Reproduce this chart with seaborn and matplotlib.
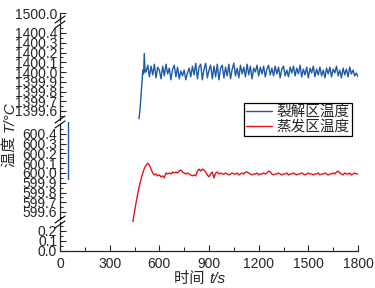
import numpy as np
import pandas as pd
import seaborn as sns
import matplotlib.pyplot as plt

# ---- data ----
blue_head_t = [477, 485, 492, 500, 505, 509, 514]
blue_head_v = [1399.52, 1399.65, 1399.82, 1400.02, 1399.98, 1400.19, 1400.00]
blue_tail = [
    1400.00, 1400.07, 1399.95, 1400.06, 1399.97, 1400.08, 1399.94, 1400.05, 1400.02, 1399.93,
    1400.06, 1399.96, 1400.08, 1399.98, 1400.04, 1399.92, 1400.03, 1400.07, 1399.95, 1400.05,
    1399.93, 1400.01, 1399.96, 1400.02, 1399.92, 1399.99, 1400.04, 1399.95, 1400.06, 1399.97,
    1400.09, 1399.93, 1400.05, 1400.08, 1399.92, 1400.03, 1400.09, 1399.94, 1400.02, 1400.07,
    1399.93, 1400.06, 1399.95, 1400.08, 1399.92, 1400.04, 1400.07, 1399.94, 1400.05, 1399.96,
    1400.08, 1399.93, 1400.03, 1400.09, 1399.96, 1400.04, 1399.94, 1400.07, 1399.98, 1400.05,
    1399.95, 1400.08, 1399.97, 1400.06, 1399.93, 1400.04, 1400.00, 1400.07, 1399.96, 1400.05,
    1399.98, 1400.06, 1399.95, 1400.03, 1400.07, 1399.97, 1400.04, 1399.96, 1400.06, 1399.98,
    1400.05, 1399.94, 1400.03, 1400.06, 1399.96, 1400.02, 1399.95, 1400.05, 1399.99, 1400.06,
    1399.96, 1400.04, 1399.98, 1400.07, 1399.95, 1400.03, 1399.97, 1400.05, 1399.94, 1400.04,
    1399.99, 1400.06, 1399.95, 1400.03, 1399.97, 1400.05, 1399.96, 1400.02, 1399.94, 1400.04,
    1399.98, 1400.05, 1399.95, 1400.03, 1399.99, 1400.06, 1399.96, 1400.02, 1399.94, 1400.04,
    1399.97, 1400.03, 1399.95, 1400.05, 1399.98, 1400.02, 1399.96, 1399.99, 1399.95,
]
blue_tail_t = np.arange(520, 1801, 10)

red_v = [
    599.50, 599.60, 599.70, 599.79, 599.87, 599.94, 600.00, 600.05, 600.08, 600.10,
    600.08, 600.04, 600.00, 599.98, 599.99, 599.97, 599.98, 599.96, 599.97, 599.95,
    600.00, 599.99, 600.00, 599.99, 600.01, 600.00, 600.01, 600.00, 600.02, 600.03,
    600.01, 600.00, 599.99, 600.00, 599.99, 599.98, 599.97, 599.98, 599.97, 600.02,
    600.04, 600.02, 600.04, 600.03, 600.01, 599.98, 599.96, 599.99, 600.01, 599.95,
    600.00, 600.01, 599.99, 600.00, 599.99, 599.99, 600.00, 599.99, 599.98, 599.99,
    600.00, 599.99, 599.99, 600.00, 599.98, 599.99, 600.00, 599.99, 600.01, 600.01,
    600.00, 599.99, 599.98, 599.99, 599.99, 600.00, 599.98, 599.99, 599.99, 600.00,
    599.99, 600.00, 600.02, 600.01, 599.99, 599.98, 599.99, 599.99, 600.00, 599.99,
    599.98, 599.99, 599.99, 600.00, 599.98, 599.99, 599.99, 600.00, 599.99, 599.98,
    599.99, 599.99, 600.00, 599.99, 599.98, 599.99, 600.00, 599.99, 599.99, 599.98,
    599.99, 599.99, 600.00, 599.98, 599.99, 599.99, 600.00, 599.99, 599.98, 599.99,
    599.99, 600.00, 599.99, 600.01, 600.02, 600.00, 599.99, 599.98, 600.00, 599.99,
    599.99, 600.00, 599.98, 599.99, 600.00, 599.99, 599.99,
]
red_t = np.arange(440, 1801, 10)

stray_t = [48, 48]
stray_v = [600.6, 599.94]

blue = pd.DataFrame({"t": list(blue_head_t) + list(blue_tail_t),
                     "v": blue_head_v + blue_tail})
red = pd.DataFrame({"t": red_t, "v": red_v})

blue_c = "#1f5aa6"
red_c = "#e3141c"

sns.set_style("ticks")
plt.rcParams["font.family"] = ["Liberation Sans", "Noto Sans CJK SC", "DejaVu Sans"]
plt.rcParams["axes.unicode_minus"] = False

fig = plt.figure(figsize=(3.75, 2.88), dpi=100)
H = 288.0
W = 375.0
L, R = 60 / W, 358 / W


def panel(top_px, bot_px):
    return fig.add_axes([L, (H - bot_px) / H, R - L, (bot_px - top_px) / H])


# four stacked panels, ~0.01026 per pixel in the two middle ones
k = 0.8 / 78
ax_top = panel(10, 22)
ax_up = panel(22, 122)
ax_mid = panel(122, 222)
ax_bot = panel(222, 251)

ax_top.set_ylim(1500 - 9 * k, 1500 + 3 * k)
ax_up.set_ylim(1399.6 - 11 * k, 1400.4 + 11 * k)
ax_mid.set_ylim(599.6 - 10 * k, 600.4 + 12 * k)
ax_bot.set_ylim(0, 0.29)

sns.lineplot(data=blue, x="t", y="v", ax=ax_up, color=blue_c, lw=1.0,
             label="裂解区温度", legend=False)
sns.lineplot(data=red, x="t", y="v", ax=ax_mid, color=red_c, lw=1.0,
             label="蒸发区温度", legend=False)
ax_mid.plot(stray_t, stray_v, color=blue_c, lw=1.0)

ax_top.set_yticks([1500.0])
ax_up.set_yticks(np.round(np.arange(1399.6, 1400.41, 0.1), 1))
ax_up.set_yticks(np.arange(1399.55, 1400.46, 0.05), minor=True)
ax_mid.set_yticks(np.round(np.arange(599.6, 600.41, 0.1), 1))
ax_mid.set_yticks(np.arange(599.55, 600.46, 0.05), minor=True)
ax_bot.set_yticks([0.0, 0.1, 0.2])
ax_bot.set_yticks([0.05, 0.15, 0.25], minor=True)

for a in [ax_top, ax_up, ax_mid, ax_bot]:
    a.set_xlim(0, 1800)
    a.set_xlabel("")
    a.set_ylabel("")
    a.patch.set_alpha(0)
    for s in ["top", "right", "bottom"]:
        a.spines[s].set_visible(False)
    a.spines["left"].set_linewidth(0.9)
    a.yaxis.set_major_formatter(plt.FormatStrFormatter("%.1f"))
    a.tick_params(axis="y", direction="in", length=4, width=0.8, labelsize=10, pad=2)
    a.tick_params(axis="y", which="minor", direction="in", length=2, width=0.7)
    a.tick_params(axis="x", bottom=False, labelbottom=False)

ax_bot.spines["bottom"].set_visible(True)
ax_bot.spines["bottom"].set_linewidth(0.9)
ax_bot.set_xticks(np.arange(0, 1801, 300))
ax_bot.set_xticks(np.arange(150, 1800, 300), minor=True)
ax_bot.tick_params(axis="x", bottom=True, labelbottom=True, direction="in",
                   length=4, width=0.8, labelsize=10, pad=4)
ax_bot.tick_params(axis="x", which="minor", bottom=True, direction="in",
                   length=3, width=0.7)

# break marks on the left spine
g = 2.5
for a, lo, hi in [(ax_top, False, True), (ax_up, True, True),
                  (ax_mid, True, True), (ax_bot, True, False)]:
    y0, y1 = a.get_ylim()
    hpx = a.get_position().height * H
    per = (y1 - y0) / hpx
    a.spines["left"].set_bounds(y0 + (g * per if lo else 0), y1 - (g * per if hi else 0))

for yb in [22, 122, 222]:
    yf = (H - yb) / H
    for d in (-g, g):
        fig.add_artist(plt.Line2D([(60 - 5) / W, (60 + 5) / W],
                                  [yf + (d - 3.5) / H, yf + (d + 3.5) / H],
                                  color="black", lw=0.8))

# axis titles: upright Chinese part + italic symbol part
yl_x, yl_y = 10 / W, (H - 132) / H
fig.text(yl_x, yl_y, "温度 ", rotation=90, ha="center", va="top", fontsize=11)
fig.text(yl_x, yl_y, "T/°C", rotation=90, ha="center", va="bottom", fontsize=11,
         style="italic")
xl_x, xl_y = (60 + 358) / 2 / W, (H - 279) / H
fig.text(xl_x, xl_y, "时间 ", ha="right", va="center", fontsize=11)
fig.text(xl_x, xl_y, "t/s", ha="left", va="center", fontsize=11, style="italic")

h1, l1 = ax_up.get_legend_handles_labels()
h2, l2 = ax_mid.get_legend_handles_labels()
leg = fig.legend(h1 + h2, l1 + l2, loc="upper right",
                 bbox_to_anchor=(352 / W, (H - 103) / H), fontsize=10.5,
                 frameon=True, fancybox=False, edgecolor="black", framealpha=1,
                 handlelength=1.8, handletextpad=0.3, borderpad=0.15,
                 labelspacing=0.05, borderaxespad=0)
leg.get_frame().set_linewidth(0.9)

fig.savefig("out.png", dpi=100)
